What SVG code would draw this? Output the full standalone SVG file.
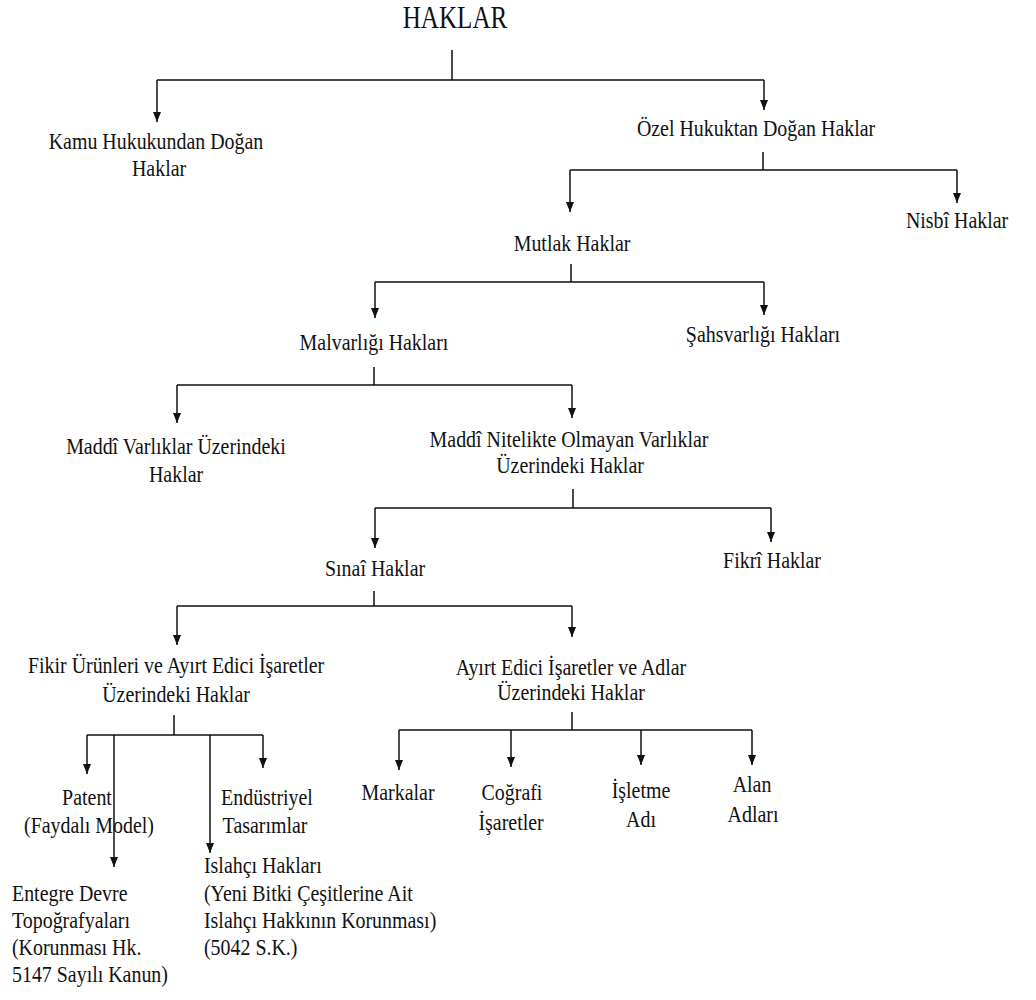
<svg xmlns="http://www.w3.org/2000/svg" width="1036" height="1000" viewBox="0 0 1036 1000">
<style>
  text { font-family: "Liberation Serif", "Times New Roman", serif; font-size: 24px; fill: #111; text-anchor: middle;
         transform-box: fill-box; transform-origin: center; transform: scaleX(0.83); }
  text.l { text-anchor: start; transform-origin: left center; }
  text.title { font-size: 31px; transform: scaleX(0.81); }
  .conn path { fill: none; stroke: #111; stroke-width: 1.5; }
  .conn path.arr { marker-end: url(#ah); }
</style>
<defs>
  <marker id="ah" markerUnits="userSpaceOnUse" markerWidth="10" markerHeight="8" refX="10" refY="4" orient="auto" viewBox="0 0 10 8">
    <path d="M0,0 L10,4 L0,8 z" fill="#111"/>
  </marker>
</defs>
<rect width="1036" height="1000" fill="#fff"/>

<g class="conn" id="connectors">
  <path d="M452,50 V80 M157,80 H764"/>
  <path class="arr" d="M157,80 V122"/>
  <path class="arr" d="M764,80 V110"/>
  <path d="M763,152 V170 M570,170 H957"/>
  <path class="arr" d="M570,170 V212"/>
  <path class="arr" d="M957,170 V203"/>
  <path d="M571,264 V282 M375,282 H764"/>
  <path class="arr" d="M375,282 V318"/>
  <path class="arr" d="M764,282 V315"/>
  <path d="M374,367 V385 M177,385 H572"/>
  <path class="arr" d="M177,385 V423"/>
  <path class="arr" d="M572,385 V418"/>
  <path d="M573,489 V508 M375,508 H771"/>
  <path class="arr" d="M375,508 V548"/>
  <path class="arr" d="M771,508 V542"/>
  <path d="M374,591 V606 M177,606 H572"/>
  <path class="arr" d="M177,606 V645"/>
  <path class="arr" d="M572,606 V637"/>
  <path d="M174,715 V735 M87,735 H263"/>
  <path class="arr" d="M87,735 V774"/>
  <path class="arr" d="M114,735 V867"/>
  <path class="arr" d="M210,735 V853"/>
  <path class="arr" d="M263,735 V768"/>
  <path d="M572,712 V730 M399,730 H752"/>
  <path class="arr" d="M399,730 V770"/>
  <path class="arr" d="M511,730 V767"/>
  <path class="arr" d="M641,730 V765"/>
  <path class="arr" d="M752,730 V765"/>
</g>

<g id="haklar"><text class="title" x="455" y="28">HAKLAR</text></g>

<g id="kamu">
  <text x="156" y="149">Kamu Hukukundan Doğan</text>
  <text x="159" y="176">Haklar</text>
</g>

<g id="ozel"><text x="756" y="136">Özel Hukuktan Doğan Haklar</text></g>

<g id="nisbi"><text x="957" y="228">Nisbî Haklar</text></g>

<g id="mutlak"><text x="572" y="251">Mutlak Haklar</text></g>

<g id="malvarligi"><text x="374" y="350">Malvarlığı Hakları</text></g>

<g id="sahsvarligi"><text x="763" y="342">Şahsvarlığı Hakları</text></g>

<g id="maddi-varliklar">
  <text x="176" y="454">Maddî Varlıklar Üzerindeki</text>
  <text x="176" y="482">Haklar</text>
</g>

<g id="maddi-nitelikte">
  <text x="569" y="447">Maddî Nitelikte Olmayan Varlıklar</text>
  <text x="570" y="473">Üzerindeki Haklar</text>
</g>

<g id="sinai"><text x="375" y="576">Sınaî Haklar</text></g>

<g id="fikri"><text x="772" y="568">Fikrî Haklar</text></g>

<g id="fikir-urunleri">
  <text x="176" y="673">Fikir Ürünleri ve Ayırt Edici İşaretler</text>
  <text x="176" y="702">Üzerindeki Haklar</text>
</g>

<g id="ayirt-edici">
  <text x="571" y="675">Ayırt Edici İşaretler ve Adlar</text>
  <text x="571" y="700">Üzerindeki Haklar</text>
</g>

<g id="patent">
  <text x="87" y="805">Patent</text>
  <text x="89" y="833">(Faydalı Model)</text>
</g>

<g id="entegre">
  <text class="l" x="12" y="901">Entegre Devre</text>
  <text class="l" x="12" y="928">Topoğrafyaları</text>
  <text class="l" x="12" y="955">(Korunması Hk.</text>
  <text class="l" x="12" y="982">5147 Sayılı Kanun)</text>
</g>

<g id="islahci">
  <text class="l" x="204" y="873">Islahçı Hakları</text>
  <text class="l" x="204" y="901">(Yeni Bitki Çeşitlerine Ait</text>
  <text class="l" x="204" y="928">Islahçı Hakkının Korunması)</text>
  <text class="l" x="204" y="955">(5042 S.K.)</text>
</g>

<g id="endustriyel">
  <text x="267" y="805">Endüstriyel</text>
  <text x="265" y="833">Tasarımlar</text>
</g>

<g id="markalar"><text x="398" y="800">Markalar</text></g>

<g id="cografi">
  <text x="512" y="800">Coğrafi</text>
  <text x="511" y="830">İşaretler</text>
</g>

<g id="isletme">
  <text x="641" y="798">İşletme</text>
  <text x="641" y="827">Adı</text>
</g>

<g id="alan">
  <text x="752" y="792">Alan</text>
  <text x="753" y="822">Adları</text>
</g>
</svg>
